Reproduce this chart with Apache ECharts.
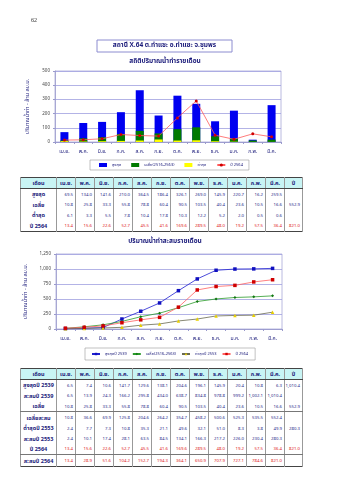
<!DOCTYPE html>
<html>
<head>
<meta charset="utf-8">
<script src="https://cdn.jsdelivr.net/npm/echarts@6/dist/echarts.min.js"></script>
<style>
  html, body { margin:0; padding:0; background:#fff; }
  body { width:339px; height:480px; position:relative; overflow:hidden;
         font-family: "Noto Sans Thai", "Tahoma", "Noto Sans", sans-serif; }
  #chart { position:absolute; left:0; top:0; width:339px; height:480px; }
  table.t { position:absolute; left:20px; width:282px; border-collapse:collapse; table-layout:fixed;
            border:1px solid #444; z-index:2; background:#fff; }
  table.t td { padding:0; overflow:hidden; white-space:nowrap; border-left:0.6px solid #999; border-right:0.6px solid #999; }
  table.t tr.h td { background:#c8f4f4; color:#1a1a7a; font-size:5.5px; font-weight:bold; text-align:center; border-bottom:1px solid #444; height:10px; }
  table.t td.lab { color:#1a1a7a; font-size:5.5px; font-weight:bold; text-align:center; }
  table.t td.v { color:#2a2a8a; font-size:4.3px; text-align:right; padding-right:2px; }
  table.t tr.red td.v { color:#e02020; }
  table.t tr.sep td { border-bottom:0.8px solid #777; }
</style>
</head>
<body>
<div id="chart"></div>
<table class="t" id="t1" style="top:177px;height:55px;"></table>
<table class="t" id="t2" style="top:368px;height:99px;"></table>
<script>
// ---------- data ----------
const months = ['เม.ย.','พ.ค.','มิ.ย.','ก.ค.','ส.ค.','ก.ย.','ต.ค.','พ.ย.','ธ.ค.','ม.ค.','ก.พ.','มี.ค.'];
const maxMonthly  = [69.5,134.0,141.6,210.0,364.5,186.4,326.1,269.0,145.9,220.7,16.2,259.5];
const meanMonthly = [10.8,25.8,33.3,55.8,78.8,60.4,90.5,103.5,40.4,23.6,10.5,16.6];
const minMonthly  = [6.1,3.3,5.5,7.8,10.4,17.8,10.3,12.2,5.2,2.0,0.5,0.6];
const y2564Monthly = [13.4,15.6,22.6,52.7,45.5,41.6,169.6,289.5,48.0,19.2,57.5,36.4];
const meanAnnual = 552.9;
const y2564Annual = 821.0;

const max2539Monthly = [6.5,7.4,10.6,141.7,129.6,138.1,204.6,196.1,145.9,20.4,10.8,6.3];
const max2539Annual = 1010.4;
const cumMax2539 = [6.5,13.9,24.3,166.2,295.8,434.0,638.7,834.8,978.8,999.2,1002.1,1010.4];
const cumMean = [10.8,36.6,69.9,125.8,204.6,264.2,354.7,458.2,500.6,525.3,535.5,552.4];
const min2553Monthly = [2.4,7.7,7.3,10.8,35.3,21.1,49.6,32.1,51.0,8.3,3.8,49.9];
const min2553Annual = 280.3;
const cumMin2553 = [2.4,10.1,17.4,28.1,63.5,84.5,134.1,166.3,217.2,226.0,230.4,280.3];
const cum2564 = [13.4,28.9,51.6,104.2,152.7,194.3,364.1,650.9,707.9,727.1,784.6,821.0];

const yTicks1 = [0,100,200,300,400,500];
const yTicks2 = [0,250,500,750,1000,1250];

// ---------- tables ----------
function fmt(v){ return v.toLocaleString('en-US',{minimumFractionDigits:1,maximumFractionDigits:1}); }
function buildTable(id, rows){
  const t = document.getElementById(id);
  let html = '<colgroup><col style="width:36px">' + months.map(()=> '<col style="width:19px">').join('') + '<col style="width:18px"></colgroup>';
  html += '<tr class="h"><td>เดือน</td>' + months.map(m=>'<td>'+m+'</td>').join('') + '<td>ปี</td></tr>';
  rows.forEach(r=>{
    const cls = [r.red?'red':'', r.sep?'sep':''].join(' ');
    html += '<tr class="'+cls+'"><td class="lab">'+r.label+'</td>' + r.vals.map(v=>'<td class="v">'+fmt(v)+'</td>').join('') +
            '<td class="v">'+(r.total!=null?fmt(r.total):'')+'</td></tr>';
  });
  t.innerHTML = html;
}
buildTable('t1',[
  {label:'สูงสุด', vals:maxMonthly},
  {label:'เฉลี่ย', vals:meanMonthly, total:meanAnnual},
  {label:'ต่ำสุด', vals:minMonthly},
  {label:'ปี 2564', vals:y2564Monthly, total:y2564Annual, red:true}
]);
buildTable('t2',[
  {label:'สูงสุดปี 2539', vals:max2539Monthly, total:max2539Annual},
  {label:'สะสมปี 2539', vals:cumMax2539},
  {label:'เฉลี่ย', vals:meanMonthly, total:meanAnnual, sep:true},
  {label:'เฉลี่ยสะสม', vals:cumMean},
  {label:'ต่ำสุดปี 2553', vals:min2553Monthly, total:min2553Annual},
  {label:'สะสมปี 2553', vals:cumMin2553},
  {label:'ปี 2564', vals:y2564Monthly, total:y2564Annual, red:true, sep:true},
  {label:'สะสมปี 2564', vals:cum2564, red:true}
]);

// ---------- chart ----------
const FONT = '"Noto Sans Thai", Tahoma, "Noto Sans", sans-serif';
const NAVY = '#1a1a7a';
const chart = echarts.init(document.getElementById('chart'), null, {renderer:'canvas'});
const axisCommonX = {
  type:'category', data:months, boundaryGap:true,
  axisLine:{lineStyle:{color:'#9a9acc', width:0.8}},
  axisTick:{show:true, length:2, lineStyle:{color:'#9a9acc'}},
  axisLabel:{fontSize:5, color:NAVY, margin:7, fontFamily:FONT, interval:0}
};
const mean2 = 'เฉลี่ย(2516-2563)\u200b';
const option = {
  animation:false,
  textStyle:{fontFamily:FONT},
  graphic:[
    {type:'text', left:31, top:17, style:{text:'62', fontSize:6, fill:'#333', fontFamily:'Liberation Serif'}},
    {type:'rect', shape:{x:97, y:40, width:135, height:12}, style:{fill:'none', stroke:'#8c8cd0', lineWidth:1}},
    {type:'text', x:164.5, y:46, style:{text:'สถานี X.64 ต.ท่าแซะ อ.ท่าแซะ จ.ชุมพร', fontSize:6.5, fontWeight:'bold', fill:NAVY, align:'center', verticalAlign:'middle', fontFamily:FONT}},
    {type:'text', x:165, y:62, style:{text:'สถิติปริมาณน้ำท่ารายเดือน', fontSize:6.5, fontWeight:'bold', fill:NAVY, align:'center', verticalAlign:'middle', fontFamily:FONT}},
    {type:'text', x:165, y:242, style:{text:'ปริมาณน้ำท่าสะสมรายเดือน', fontSize:6.5, fontWeight:'bold', fill:NAVY, align:'center', verticalAlign:'middle', fontFamily:FONT}}
  ],
  grid:[
    {left:55, top:71, width:226, height:71, show:true, borderColor:'#a8a8d8', borderWidth:0.8, backgroundColor:'#fff'},
    {left:56, top:254, width:226, height:75, show:true, borderColor:'#a8a8d8', borderWidth:0.8, backgroundColor:'#fff'}
  ],
  xAxis:[
    Object.assign({gridIndex:0}, axisCommonX),
    Object.assign({gridIndex:1}, axisCommonX, {boundaryGap:true})
  ],
  yAxis:[
    {gridIndex:0, type:'value', min:yTicks1[0], max:yTicks1[yTicks1.length-1], interval:yTicks1[1]-yTicks1[0],
     name:'ปริมาณน้ำท่า - ล้าน ลบ.ม.', nameLocation:'middle', nameRotate:90, nameGap:21,
     nameTextStyle:{fontSize:5.5, color:NAVY, fontFamily:FONT},
     axisLine:{show:true, lineStyle:{color:'#9a9acc', width:0.8}},
     axisTick:{show:true, length:2, lineStyle:{color:'#9a9acc'}},
     axisLabel:{fontSize:4.5, color:'#444', margin:5},
     splitLine:{lineStyle:{color:'#a0a0e0', width:0.8}}},
    {gridIndex:1, type:'value', min:yTicks2[0], max:yTicks2[yTicks2.length-1], interval:yTicks2[1]-yTicks2[0],
     name:'ปริมาณน้ำท่า - ล้าน ลบ.ม.', nameLocation:'middle', nameRotate:90, nameGap:25,
     nameTextStyle:{fontSize:5.5, color:NAVY, fontFamily:FONT},
     axisLine:{show:true, lineStyle:{color:'#9a9acc', width:0.8}},
     axisTick:{show:true, length:2, lineStyle:{color:'#9a9acc'}},
     axisLabel:{fontSize:4.5, color:'#444', margin:5, formatter:v=>v.toLocaleString('en-US')},
     splitLine:{lineStyle:{color:'#a0a0e0', width:0.8}}}
  ],
  legend:[
    {left:90, top:160, orient:'horizontal', borderColor:'#999', borderWidth:0.6, padding:[3,6,3,9], itemGap:10,
     itemWidth:8, itemHeight:4, textStyle:{fontSize:4, color:NAVY, fontFamily:FONT},
     data:[
       {name:'สูงสุด', icon:'rect'},
       {name:'เฉลี่ย(2516-2563)', icon:'rect'},
       {name:'ต่ำสุด', icon:'rect'},
       {name:'ปี 2564'}
     ]},
    {left:85, top:348, orient:'horizontal', borderColor:'#999', borderWidth:0.6, padding:[4,7,4,6], itemGap:5,
     itemWidth:8, itemHeight:3, textStyle:{fontSize:4, color:NAVY, fontFamily:FONT},
     data:['สูงสุดปี 2539', mean2, 'ต่ำสุดปี 2553', 'ปี 2564\u200b'],
     formatter: n => n.replace('\u200b','')}
  ],
  series:[
    {name:'สูงสุด', type:'bar', xAxisIndex:0, yAxisIndex:0, data:maxMonthly, barWidth:8, barGap:'-100%',
     itemStyle:{color:'#0000f0'}, z:2},
    {name:'เฉลี่ย(2516-2563)', type:'bar', xAxisIndex:0, yAxisIndex:0, data:meanMonthly, barWidth:8, barGap:'-100%',
     itemStyle:{color:'#007a00'}, z:3},
    {name:'ต่ำสุด', type:'bar', xAxisIndex:0, yAxisIndex:0, data:minMonthly, barWidth:8, barGap:'-100%',
     itemStyle:{color:'#ffff00'}, z:4},
    {name:'ปี 2564', type:'line', xAxisIndex:0, yAxisIndex:0, data:y2564Monthly, symbol:'circle', symbolSize:3,
     lineStyle:{color:'#ff5a5a', width:0.8}, itemStyle:{color:'#d00000'}, z:5},

    {name:'สูงสุดปี 2539', type:'line', xAxisIndex:1, yAxisIndex:1, data:cumMax2539, symbol:'rect', symbolSize:3.5,
     lineStyle:{color:'#2020d0', width:0.8}, itemStyle:{color:'#1010c0'}},
    {name:mean2, type:'line', xAxisIndex:1, yAxisIndex:1, data:cumMean, symbol:'diamond', symbolSize:3,
     lineStyle:{color:'#2a9a2a', width:0.8}, itemStyle:{color:'#117711'}},
    {name:'ต่ำสุดปี 2553', type:'line', xAxisIndex:1, yAxisIndex:1, data:cumMin2553, symbol:'triangle', symbolSize:3.5,
     lineStyle:{color:'#6a6a50', width:0.8}, itemStyle:{color:'#e8d000'}},
    {name:'ปี 2564\u200b', type:'line', xAxisIndex:1, yAxisIndex:1, data:cum2564, symbol:'rect', symbolSize:3.5,
     lineStyle:{color:'#ff6060', width:0.8}, itemStyle:{color:'#d00000'}}
  ]
};
chart.setOption(option);
</script>
</body>
</html>
